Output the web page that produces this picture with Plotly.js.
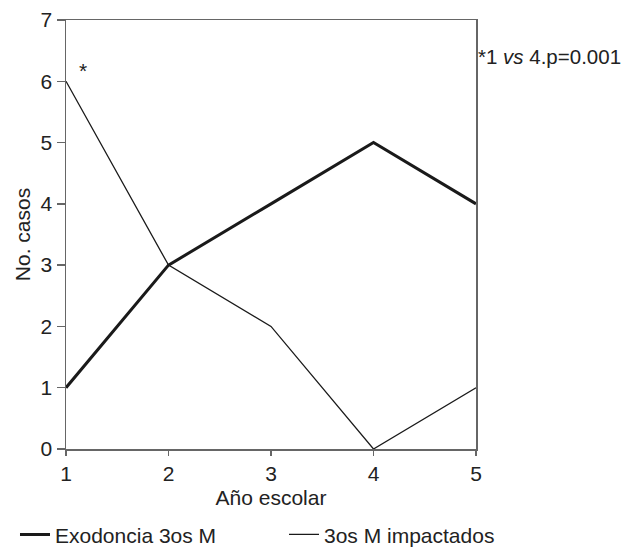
<!DOCTYPE html>
<html>
<head>
<meta charset="utf-8">
<script src="https://cdn.plot.ly/plotly-3.0.1.min.js"></script>
<style>html,body{margin:0;padding:0;background:#fff;}#chart{width:625px;height:550px;}</style>
</head>
<body>
<div id="chart"></div>
<script>
var years = [1, 2, 3, 4, 5];
var exodoncia = [1, 3, 4, 5, 4];
var impactados = [6, 3, 2, 0, 1];
var yTicks = [0, 1, 2, 3, 4, 5, 6, 7];

var font = 'Liberation Sans, Arial, sans-serif';
var fs = 21;

var traces = [
  {x: years, y: exodoncia, type: 'scatter', mode: 'lines', name: 'Exodoncia 3os M',
   line: {color: '#1a1a1a', width: 3}, legend: 'legend'},
  {x: years, y: impactados, type: 'scatter', mode: 'lines', name: '3os M impactados',
   line: {color: '#1a1a1a', width: 1.3}, legend: 'legend2'}
];

var legendBase = {orientation: 'h', xanchor: 'left', y: -0.2, yanchor: 'middle',
  font: {family: font, size: fs, color: '#222'}, itemwidth: 30, bgcolor: 'rgba(0,0,0,0)'};

var layout = {
  width: 625, height: 550,
  margin: {l: 66, r: 149, t: 20, b: 101, autoexpand: false},
  paper_bgcolor: '#fff', plot_bgcolor: '#fff',
  font: {family: font, size: fs, color: '#222'},
  showlegend: true,
  legend: Object.assign({}, legendBase, {x: -0.1244}),
  legend2: Object.assign({}, legendBase, {x: 0.5317}),
  xaxis: {range: [1, 5], tickvals: years, showgrid: false, zeroline: false,
          showline: true, mirror: true, linecolor: '#666', linewidth: 1.5,
          ticks: 'outside', ticklen: 5, tickcolor: '#666', tickwidth: 1.5,
          title: {text: 'Año escolar', font: {size: fs}, standoff: 6}},
  yaxis: {range: [0, 7], tickvals: yTicks, showgrid: false, zeroline: false,
          showline: true, mirror: true, linecolor: '#666', linewidth: 1.5,
          ticks: 'outside', ticklen: 8, tickcolor: '#666', tickwidth: 1.5,
          ticklabelstandoff: 0,
          title: {text: 'No. casos', font: {size: fs}, standoff: 4}},
  annotations: [
    {x: 1.17, y: 6.17, xref: 'x', yref: 'y', text: '*', showarrow: false,
     font: {size: fs}},
    {x: 1.0, y: 6.4, xref: 'paper', yref: 'y', xanchor: 'left', text: '*1 <i>vs</i> 4.p=0.001',
     showarrow: false, font: {size: 20.5}}
  ]
};

Plotly.newPlot('chart', traces, layout, {displayModeBar: false, staticPlot: true});
</script>
</body>
</html>
